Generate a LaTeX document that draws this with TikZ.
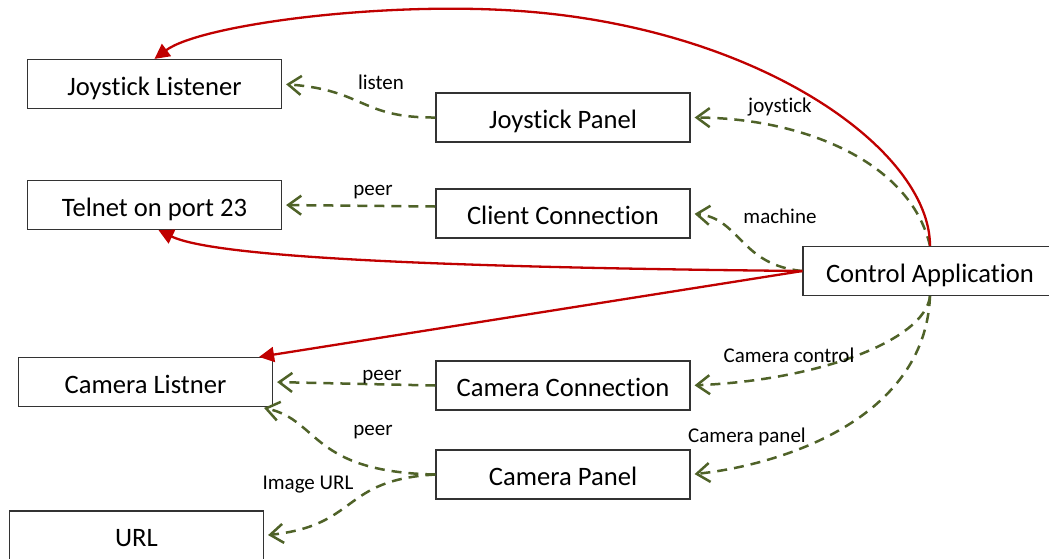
\documentclass[tikz,border=0pt]{standalone}
\usepackage{fontspec}
\setmainfont{Carlito}[Ligatures={NoCommon,NoRare}]
\usetikzlibrary{arrows.meta}
\definecolor{linkred}{HTML}{C00000}
\definecolor{linkgreen}{HTML}{4F6228}
\begin{document}
\begin{tikzpicture}[x=1pt,y=-1pt,
  box/.style={draw=black!80, line width=1.2pt, fill=white, minimum width=254pt,
    minimum height=49pt, inner sep=0pt, text height=22pt, text depth=0pt,
    font=\fontsize{26.6}{30}\selectfont},
  lbl/.style={font=\fontsize{21}{24}\selectfont, anchor=base, inner sep=0pt},
  owns/.style={draw=linkred, line width=2.3pt, -{Triangle[length=15pt,width=15pt]}},
  uses/.style={draw=linkgreen, line width=2.5pt, dash pattern=on 10pt off 7pt,
    -{Straight Barb[length=13pt,width=19pt]}, shorten >=4pt}]
\useasboundingbox (0,0) rectangle (1049,558);

% components
\node[box] (jl)  at (154.5,84)   {Joystick Listener};
\node[box] (tn)  at (154.5,205)  {Telnet on port 23};
\node[box] (jp)  at (563,117.5)  {Joystick Panel};
\node[box] (cc)  at (563,213.5)  {Client Connection};
\node[box] (ca)  at (930,271)    {Control Application};
\node[box] (cl)  at (145.5,382)  {Camera Listner};
\node[box] (cn)  at (563,385.5)  {Camera Connection};
\node[box] (cp)  at (563,474.5)  {Camera Panel};
\node[box] (url) at (136.5,535.5){URL};

% references (dashed)
\draw[uses] (jp.west) .. controls (360,118) and (365,90) .. (jl.east);
\draw[uses] (ca.north) .. controls (910,160) and (800,118) .. (jp.east);
\draw[uses] (ca.west) .. controls (740,265) and (740,218) .. (cc.east);
\draw[uses] ([yshift=7pt]cc.west) -- (tn.east);
\draw[uses] (cn.west) -- (cl.east);
\draw[uses] (ca.south) .. controls (925,340) and (820,380) .. (cn.east);
\draw[uses] (ca.south) .. controls (925,420) and (780,465) .. (cp.east);
\draw[uses] (cp.west) .. controls (310,472) and (320,420) .. ([xshift=-13pt]cl.south east);
\draw[uses] (cp.west) .. controls (340,480) and (360,525) .. (url.east);

% ownership (solid)
\draw[owns] (ca.north) .. controls (930,150) and (760,28) .. (520,11)
  .. controls (380,1) and (200,25) .. (jl.north);
\draw[owns] (ca.west) .. controls (500,268) and (220,260) .. ([xshift=4pt]tn.south);
\draw[owns] (ca.west) -- ([xshift=-14pt]cl.north east);

% labels
\node[lbl] (t1) at (381,89)  {listen};
\node[lbl] (t2) at (780,112) {joystick};
\node[lbl] (t3) at (373,195) {peer};
\node[lbl] (t4) at (780,223) {machine};
\node[lbl] (t5) at (382,380) {peer};
\node[lbl] (t6) at (373,435) {peer};
\node[lbl] (t7) at (308,489) {Image URL};
\node[lbl] (t8) at (789,362) {Camera control};
\node[lbl] (t9) at (747,442) {Camera panel};
\end{tikzpicture}
\end{document}
